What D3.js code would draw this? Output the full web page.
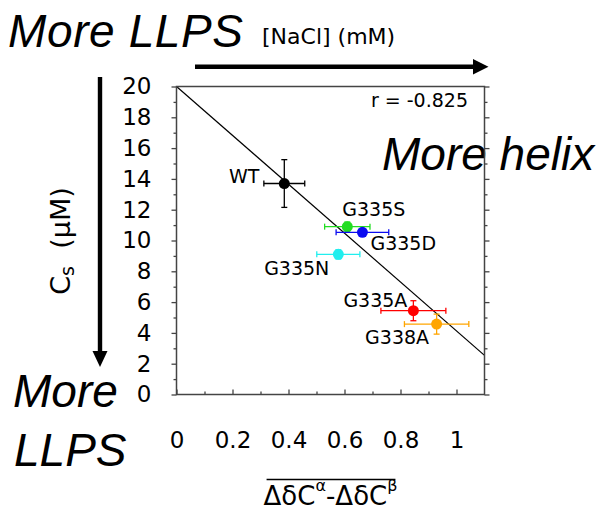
<!DOCTYPE html>
<html>
<head>
<meta charset="utf-8">
<script src="https://cdn.jsdelivr.net/npm/d3@7"></script>
<style>
  html, body { margin: 0; padding: 0; background: #fff; }
  svg { display: block; }
  .sans { font-family: "DejaVu Sans", sans-serif; }
  .ital { font-family: "Liberation Sans", Arial, sans-serif; font-style: italic; }
</style>
</head>
<body>
<svg id="chart" width="603" height="511"></svg>
<script>
// Variants and their measurements
const variants     = ["WT", "G335S", "G335D", "G335N", "G335A", "G338A"];
const helixShift   = [0.385, 0.610, 0.664, 0.578, 0.846, 0.929];   // mean ΔδCα-ΔδCβ
const helixShiftSd = [0.073, 0.081, 0.094, 0.077, 0.116, 0.115];
const cSat         = [13.7, 10.9, 10.53, 9.1, 5.44, 4.57];          // Cs (μM)
const cSatSd       = [1.55, 0.30, 0.15, 0.30, 0.65, 0.65];

// Linear fit drawn across the plot
const fitIntercept = 20.0;
const fitSlope     = -15.87;
const fitR         = "-0.825";

// Axis ticks
const xTickValues = [0, 0.2, 0.4, 0.6, 0.8, 1];
const xTickLabels = ["0", "0.2", "0.4", "0.6", "0.8", "1"];
const xMinorTicks = [0.1, 0.3, 0.5, 0.7, 0.9];
const yTickValues = [0, 2, 4, 6, 8, 10, 12, 14, 16, 18, 20];
const yTickLabels = ["0", "2", "4", "6", "8", "10", "12", "14", "16", "18", "20"];
const yMinorTicks = [1, 3, 5, 7, 9, 11, 13, 15, 17, 19];

// Styling / layout
const variantColor = {
  WT: "#000000", G335S: "#22dd22", G335D: "#0a0af0",
  G335N: "#22eeee", G335A: "#ff0000", G338A: "#ffa500"
};
const labelPlace = {
  WT:    { dx: -25,  dy: -1,   anchor: "end" },
  G335S: { dx: -5,   dy: -10.5, anchor: "start" },
  G335D: { dx: 8,    dy: 17.5, anchor: "start" },
  G335N: { dx: -9,   dy: 20.5, anchor: "end" },
  G335A: { dx: -6,   dy: -4,   anchor: "end" },
  G338A: { dx: -7.5, dy: 19.5, anchor: "end" }
};
const frameColor = "#444";

const svg = d3.select("#chart");
const plotL = 176.5, plotR = 484.5, plotT = 86.5, plotB = 394.5;

const x = d3.scaleLinear().domain([0, 1.1]).range([plotL, plotR]);
const y = d3.scaleLinear().domain([0, 20]).range([plotB, plotT]);

// Side annotations
svg.append("text").attr("class", "ital").attr("x", 8).attr("y", 47)
  .attr("font-size", 46).attr("textLength", 235).text("More LLPS");
svg.append("text").attr("class", "sans").attr("x", 262).attr("y", 44)
  .attr("font-size", 22).text("[NaCl] (mM)");
svg.append("text").attr("class", "ital").attr("x", 382).attr("y", 170)
  .attr("font-size", 46).text("More helix");
svg.append("text").attr("class", "ital").attr("x", 13).attr("y", 407)
  .attr("font-size", 46).text("More");
svg.append("text").attr("class", "ital").attr("x", 14).attr("y", 466)
  .attr("font-size", 46).text("LLPS");

// Arrows
svg.append("path")
  .attr("d", "M195,64.5 L473,64.5 L473,59 L488.5,66.7 L473,74.4 L473,69 L195,69 Z")
  .attr("fill", "#000");
svg.append("path")
  .attr("d", "M97.8,77 L97.8,351 L92.5,351 L100,367 L107.5,351 L102.2,351 L102.2,77 Z")
  .attr("fill", "#000");

// Fit line, clipped to the frame
svg.append("clipPath").attr("id", "plotClip")
  .append("rect").attr("x", plotL).attr("y", plotT)
  .attr("width", plotR - plotL).attr("height", plotB - plotT);
svg.append("line")
  .attr("clip-path", "url(#plotClip)")
  .attr("x1", x(0)).attr("y1", y(fitIntercept))
  .attr("x2", x(1.1)).attr("y2", y(fitIntercept + fitSlope * 1.1))
  .attr("stroke", "#000").attr("stroke-width", 1.2);

svg.append("text").attr("class", "sans").attr("x", 468).attr("y", 106.5)
  .attr("text-anchor", "end").attr("font-size", 19).text("r = " + fitR);

// Points with error bars
const pts = variants.map((name, i) => ({
  name, hx: helixShift[i], hxe: helixShiftSd[i], cs: cSat[i], cse: cSatSd[i]
}));

const g = svg.append("g").selectAll("g").data(pts).join("g")
  .attr("stroke", d => variantColor[d.name]);
const cap = 3;
g.append("line")
  .attr("x1", d => x(d.hx - d.hxe)).attr("x2", d => x(d.hx + d.hxe))
  .attr("y1", d => y(d.cs)).attr("y2", d => y(d.cs)).attr("stroke-width", 1.3);
g.append("line")
  .attr("x1", d => x(d.hx - d.hxe)).attr("x2", d => x(d.hx - d.hxe))
  .attr("y1", d => y(d.cs) - cap).attr("y2", d => y(d.cs) + cap).attr("stroke-width", 1.3);
g.append("line")
  .attr("x1", d => x(d.hx + d.hxe)).attr("x2", d => x(d.hx + d.hxe))
  .attr("y1", d => y(d.cs) - cap).attr("y2", d => y(d.cs) + cap).attr("stroke-width", 1.3);
g.append("line")
  .attr("x1", d => x(d.hx)).attr("x2", d => x(d.hx))
  .attr("y1", d => y(d.cs - d.cse)).attr("y2", d => y(d.cs + d.cse)).attr("stroke-width", 1.3);
g.append("line")
  .attr("x1", d => x(d.hx) - cap).attr("x2", d => x(d.hx) + cap)
  .attr("y1", d => y(d.cs - d.cse)).attr("y2", d => y(d.cs - d.cse)).attr("stroke-width", 1.3);
g.append("line")
  .attr("x1", d => x(d.hx) - cap).attr("x2", d => x(d.hx) + cap)
  .attr("y1", d => y(d.cs + d.cse)).attr("y2", d => y(d.cs + d.cse)).attr("stroke-width", 1.3);
g.append("circle")
  .attr("cx", d => x(d.hx)).attr("cy", d => y(d.cs)).attr("r", 5.5)
  .attr("fill", d => variantColor[d.name]).attr("stroke", "none");

svg.append("g").selectAll("text").data(pts).join("text")
  .attr("class", "sans").attr("font-size", 19)
  .attr("x", d => x(d.hx) + labelPlace[d.name].dx)
  .attr("y", d => y(d.cs) + labelPlace[d.name].dy)
  .attr("text-anchor", d => labelPlace[d.name].anchor)
  .text(d => d.name);

// Frame
svg.append("rect").attr("x", plotL).attr("y", plotT)
  .attr("width", plotR - plotL).attr("height", plotB - plotT)
  .attr("fill", "none").attr("stroke", frameColor).attr("stroke-width", 1.5);

function styleAxis(sel) {
  sel.select(".domain").remove();
  sel.selectAll(".tick line").attr("stroke", frameColor).attr("stroke-width", 1.3);
  sel.selectAll("text").attr("font-family", "DejaVu Sans, sans-serif")
    .attr("font-size", 23).attr("fill", "#000");
}

// Left axis: labelled majors, outward ticks
svg.append("g").attr("transform", `translate(${plotL},0)`)
  .call(d3.axisLeft(y).tickValues(yTickValues).tickSize(5).tickPadding(20)
    .tickFormat((d, i) => yTickLabels[i]))
  .call(styleAxis);
svg.append("g").attr("transform", `translate(${plotL},0)`)
  .call(d3.axisLeft(y).tickValues(yMinorTicks).tickSize(3).tickFormat(""))
  .call(styleAxis);

// Right axis: mirrored ticks, outward
svg.append("g").attr("transform", `translate(${plotR},0)`)
  .call(d3.axisRight(y).tickValues(yTickValues).tickSize(5).tickFormat(""))
  .call(styleAxis);
svg.append("g").attr("transform", `translate(${plotR},0)`)
  .call(d3.axisRight(y).tickValues(yMinorTicks).tickSize(3).tickFormat(""))
  .call(styleAxis);

// Bottom axis: inward ticks
const xAxisG = svg.append("g").attr("transform", `translate(0,${plotB})`)
  .call(d3.axisBottom(x).tickValues(xTickValues).tickSize(-5)
    .tickFormat((d, i) => xTickLabels[i]))
  .call(styleAxis);
xAxisG.selectAll("text").attr("y", 53.5).attr("dy", null);
svg.append("g").attr("transform", `translate(0,${plotB})`)
  .call(d3.axisBottom(x).tickValues(xMinorTicks).tickSize(-3).tickFormat(""))
  .call(styleAxis);

// X axis title with overline
const xt = svg.append("text").attr("class", "sans")
  .attr("x", 330.5).attr("y", 505).attr("text-anchor", "middle").attr("font-size", 26);
xt.append("tspan").text("ΔδC");
xt.append("tspan").attr("font-size", 16).attr("dy", -14).text("α");
xt.append("tspan").attr("font-size", 26).attr("dy", 14).text("-ΔδC");
xt.append("tspan").attr("font-size", 16).attr("dy", -14).text("β");
const xb = xt.node().getBBox();
svg.append("line")
  .attr("x1", xb.x + 3).attr("x2", xb.x + xb.width - 2)
  .attr("y1", 479.5).attr("y2", 479.5)
  .attr("stroke", "#000").attr("stroke-width", 1.6);

// Y axis title
const yt = svg.append("text").attr("class", "sans")
  .attr("transform", "translate(70,241) rotate(-90)")
  .attr("text-anchor", "middle").attr("font-size", 27)
  .style("white-space", "pre");
yt.append("tspan").text("C");
yt.append("tspan").attr("font-size", 19).attr("dy", 4).text("s");
yt.append("tspan").attr("font-size", 27).attr("dy", -4).text("  (μM)");
</script>
</body>
</html>
